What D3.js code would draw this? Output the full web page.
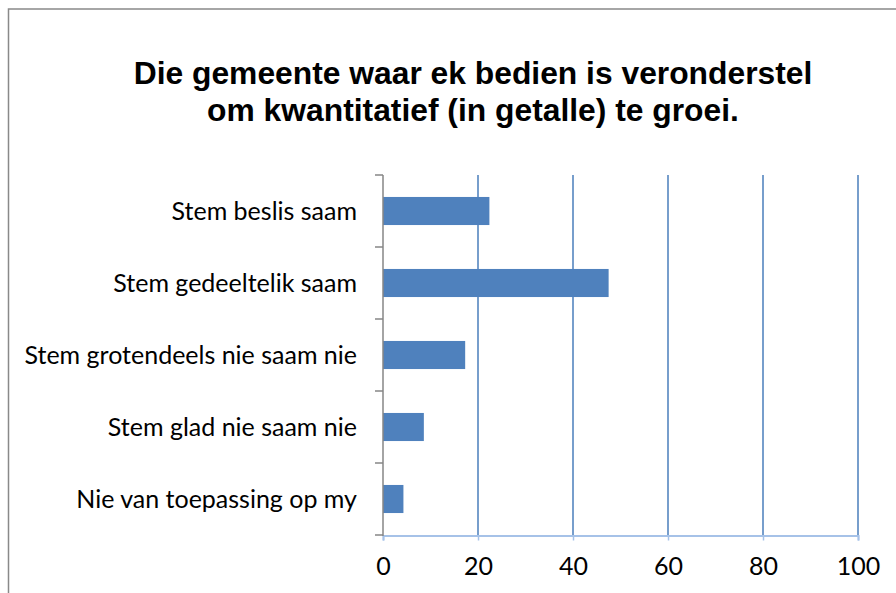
<!DOCTYPE html>
<html>
<head>
<meta charset="utf-8">
<script src="https://cdn.jsdelivr.net/npm/d3@7"></script>
<style>
  body { margin: 0; background: #fff; }
  svg { display: block; }
</style>
</head>
<body>
<svg id="chart" width="896" height="593"></svg>
<script>
const titleLines = ["Die gemeente waar ek bedien is veronderstel", "om kwantitatief (in getalle) te groei."];
const categories = ["Stem beslis saam", "Stem gedeeltelik saam", "Stem grotendeels nie saam nie", "Stem glad nie saam nie", "Nie van toepassing op my"];
const values = [22.4, 47.5, 17.3, 8.6, 4.3];
const xTicks = [0, 20, 40, 60, 80, 100];

const svg = d3.select("#chart");

// chart frame (runs off the right and bottom edges)
svg.append("rect")
    .attr("x", 8.5).attr("y", 9)
    .attr("width", 1000).attr("height", 1000)
    .attr("fill", "#fff")
    .attr("stroke", "#898989")
    .attr("stroke-width", 1.5);

svg.append("text")
    .attr("font-family", "'Liberation Sans', Arial, sans-serif")
    .attr("font-weight", "bold")
    .attr("font-size", 31.8)
    .attr("text-anchor", "middle")
    .selectAll("tspan")
    .data(titleLines)
    .join("tspan")
    .attr("x", 473)
    .attr("y", (d, i) => 84 + i * 37)
    .text(d => d);

const x = d3.scaleLinear().domain([0, 100]).range([383, 858]);
const y = d3.scaleBand().domain(categories).range([175, 535]).paddingInner(0.61).paddingOuter(0.305);

// vertical gridlines
svg.append("g")
    .selectAll("line")
    .data(xTicks.slice(1))
    .join("line")
    .attr("x1", d => x(d)).attr("x2", d => x(d))
    .attr("y1", 175).attr("y2", 535)
    .attr("stroke", "#4a7ebb")
    .attr("stroke-width", 1.5);

// bars
svg.append("g")
    .selectAll("rect")
    .data(values)
    .join("rect")
    .attr("x", x(0))
    .attr("y", (d, i) => y(categories[i]))
    .attr("width", d => x(d) - x(0))
    .attr("height", y.bandwidth())
    .attr("fill", "#4f81bd");

// bottom axis
const xAxis = svg.append("g")
    .attr("transform", "translate(0,535.5)")
    .call(d3.axisBottom(x).tickValues(xTicks).tickSize(5).tickPadding(17));
xAxis.select(".domain").attr("stroke", "#a6c2e8").attr("stroke-width", 2);
xAxis.selectAll(".tick line").attr("stroke", "#a6c2e8").attr("stroke-width", 1.5);
xAxis.selectAll(".tick text")
    .attr("font-family", "Lato, sans-serif")
    .attr("font-size", 25)
    .attr("fill", "#000");

// left axis with ticks between categories
const bandEdges = d3.range(categories.length + 1).map(i => 175 + i * y.step());
const yAxis = svg.append("g");
yAxis.append("line")
    .attr("x1", 383).attr("x2", 383)
    .attr("y1", 175).attr("y2", 536)
    .attr("stroke", "#868686").attr("stroke-width", 1.5);
yAxis.selectAll("line.tk")
    .data(bandEdges)
    .join("line")
    .attr("class", "tk")
    .attr("x1", 375).attr("x2", 383)
    .attr("y1", d => d).attr("y2", d => d)
    .attr("stroke", "#868686").attr("stroke-width", 1.5);
yAxis.selectAll("text")
    .data(categories)
    .join("text")
    .attr("x", 357)
    .attr("y", d => y(d) + y.bandwidth() / 2)
    .attr("dy", "0.35em")
    .attr("text-anchor", "end")
    .attr("font-family", "Lato, sans-serif")
    .attr("font-size", 25)
    .attr("fill", "#000")
    .text(d => d);
</script>
</body>
</html>
